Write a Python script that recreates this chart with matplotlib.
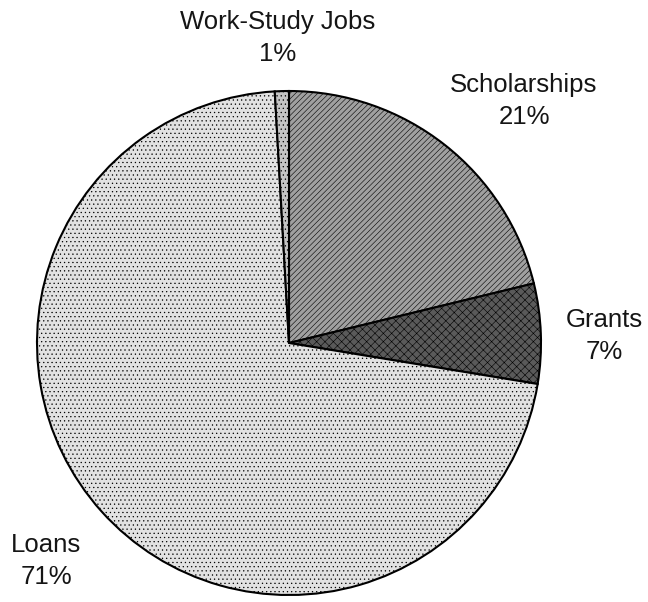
import matplotlib
matplotlib.use("Agg")
import matplotlib.pyplot as plt

# Data (clockwise from 12 o'clock)
categories = ["Scholarships", "Grants", "Loans", "Work-Study Jobs"]
shares = [21.2, 6.4, 71.5, 0.9]          # wedge sizes
pct_labels = ["21%", "7%", "71%", "1%"]  # printed percentages

colors = ["#a0a0a0", "#5a5a5a", "#e2e2e2", "#c4c4c4"]
hatches = ["//////", "xxxx", "....", "...."]

W, H = 648, 602
fig = plt.figure(figsize=(W / 100, H / 100), dpi=100)
ax = fig.add_axes([0, 0, 1, 1])

plt.rcParams["hatch.linewidth"] = 0.4
plt.rcParams["hatch.color"] = "#555555"

wedges, _ = ax.pie(shares, colors=colors, startangle=90, counterclock=False,
                   center=(289, H - 343), radius=252, frame=True,
                   wedgeprops=dict(edgecolor="black", linewidth=1.5))
for w, h in zip(wedges, hatches):
    w.set_hatch(h)
ax.set_xlim(0, W)
ax.set_ylim(0, H)
ax.set_aspect("equal")
ax.axis("off")

label_pos = {
    "Scholarships": (524, H - 101),
    "Grants": (604, H - 336),
    "Loans": (46, H - 561),
    "Work-Study Jobs": (278, H - 38),
}
for cat, pct in zip(categories, pct_labels):
    x, y = label_pos[cat]
    ax.text(x, y, f"{cat}\n{pct}", ha="center", va="center",
            multialignment="center", fontsize=18.5,
            family=["Liberation Sans", "DejaVu Sans"], linespacing=1.45,
            color="#151515")

fig.savefig("out.png", dpi=100, facecolor="white")
